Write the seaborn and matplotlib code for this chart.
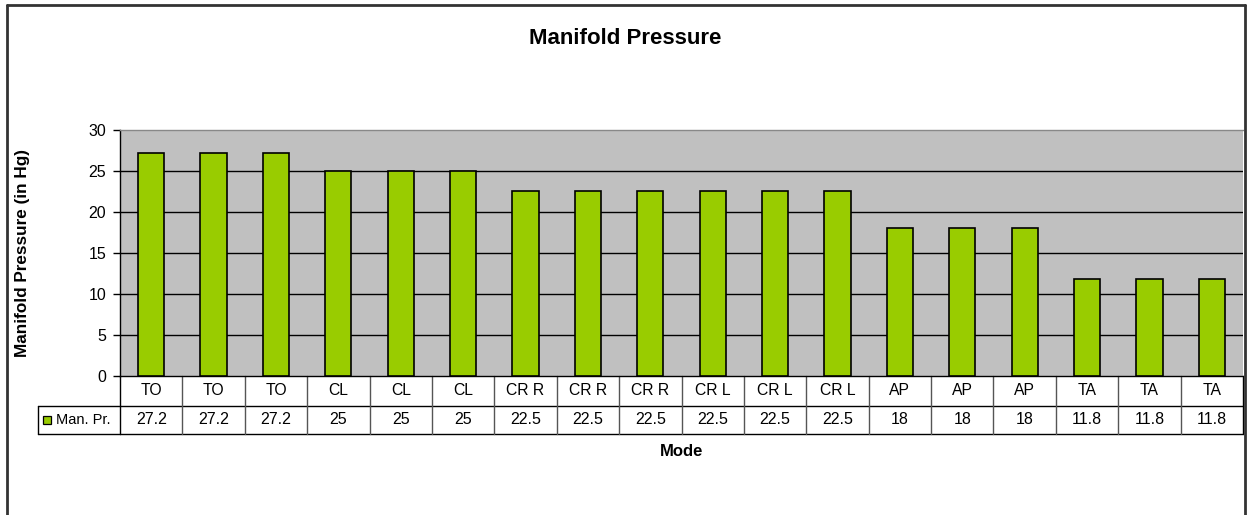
import matplotlib
matplotlib.use("Agg")
import matplotlib.pyplot as plt
import seaborn as sns
import pandas as pd
import numpy as np
from matplotlib.lines import Line2D
from matplotlib.patches import Rectangle
import matplotlib.transforms as mtransforms

modes = ["TO", "TO", "TO", "CL", "CL", "CL", "CR R", "CR R", "CR R",
         "CR L", "CR L", "CR L", "AP", "AP", "AP", "TA", "TA", "TA"]
values = [27.2, 27.2, 27.2, 25, 25, 25, 22.5, 22.5, 22.5,
          22.5, 22.5, 22.5, 18, 18, 18, 11.8, 11.8, 11.8]
value_labels = ["27.2", "27.2", "27.2", "25", "25", "25", "22.5", "22.5", "22.5",
                "22.5", "22.5", "22.5", "18", "18", "18", "11.8", "11.8", "11.8"]
series_name = "Man. Pr."
yticks = [0, 5, 10, 15, 20, 25, 30]

sns.set_theme(style="white")
plt.rcParams['font.family'] = ['Liberation Sans', 'DejaVu Sans']
plt.rcParams['text.color'] = 'black'
plt.rcParams['axes.labelcolor'] = 'black'
plt.rcParams['ytick.color'] = 'black'

W, H = 1250, 515
fig = plt.figure(figsize=(W / 100, H / 100), dpi=100)
fig.patch.set_facecolor("white")

# figure border
for (x0, y0, x1, y1) in [(7, 5, 1245, 5), (7, 5, 7, 515), (1245, 5, 1245, 515)]:
    fig.add_artist(Line2D([x0 / W, x1 / W], [1 - y0 / H, 1 - y1 / H],
                          transform=fig.transFigure, color="#333333", lw=2))

left, right, top, bottom = 120, 1243, 130, 375.5
ax = fig.add_axes([left / W, 1 - bottom / H, (right - left) / W, (bottom - top) / H])

df = pd.DataFrame({"idx": np.arange(len(values)), "val": values})
sns.barplot(data=df, x="idx", y="val", color="#99CC00", saturation=1,
            edgecolor="black", linewidth=1.2, width=0.42, ax=ax, zorder=3)

ax.set_facecolor("#C0C0C0")
ax.set_ylim(0, 30)
ax.set_xlim(-0.5, len(values) - 0.5)
ax.set_yticks(yticks)
ax.set_yticklabels([str(t) for t in yticks], fontsize=11.5, color="black")
ax.set_xticks([])
ax.set_xlabel("")
ax.set_ylabel("Manifold Pressure (in Hg)", fontsize=12.3, fontweight="bold", color="black")
ax.yaxis.set_label_coords((30 - left) / (right - left), 0.5)
ax.tick_params(axis="y", which="both", left=True, length=5, width=1, color="black", pad=5)
for t in yticks[1:-1]:
    ax.axhline(t, color="black", lw=1, zorder=1)
ax.spines["top"].set_color("#888888")
ax.spines["top"].set_linewidth(1)
ax.spines["right"].set_visible(False)
ax.spines["left"].set_color("black")
ax.spines["left"].set_linewidth(1)
ax.spines["bottom"].set_color("black")
ax.spines["bottom"].set_linewidth(1)

# data table below the axes
trans = mtransforms.blended_transform_factory(ax.transData, ax.transAxes)
axh = bottom - top
row_h = 30 / axh
row2_h = 28 / axh
n = len(values)
y_r1_bot = -row_h
y_r2_bot = -row_h - row2_h

ax.add_line(Line2D([-0.5, n - 0.5], [y_r1_bot, y_r1_bot], transform=trans,
                   color="black", lw=1, clip_on=False))
ax.add_line(Line2D([-0.5, n - 0.5], [y_r2_bot, y_r2_bot], transform=trans,
                   color="black", lw=1, clip_on=False))
for i in range(n + 1):
    xv = i - 0.5
    c = "#555555" if 0 < i < n else "black"
    ax.add_line(Line2D([xv, xv], [0, y_r2_bot], transform=trans,
                       color=c, lw=1, clip_on=False))

# legend cell
cat_w = (right - left) / n
leg_left_px = 38
leg_left_data = -0.5 - (left - leg_left_px) / cat_w
ax.add_line(Line2D([leg_left_data, -0.5], [y_r1_bot, y_r1_bot], transform=trans,
                   color="black", lw=1, clip_on=False))
ax.add_line(Line2D([leg_left_data, -0.5], [y_r2_bot, y_r2_bot], transform=trans,
                   color="black", lw=1, clip_on=False))
ax.add_line(Line2D([leg_left_data, leg_left_data], [y_r1_bot, y_r2_bot], transform=trans,
                   color="black", lw=1, clip_on=False))
ymid2 = (y_r1_bot + y_r2_bot) / 2
ax.add_patch(Rectangle((leg_left_data + 5 / cat_w, ymid2 - 4 / axh), 8 / cat_w, 8 / axh,
                       transform=trans, facecolor="#99CC00", edgecolor="black",
                       lw=0.9, clip_on=False))
ax.text(leg_left_data + 18 / cat_w, ymid2, series_name, transform=trans,
        ha="left", va="center", fontsize=10.5, color="black")

for i, (m, v) in enumerate(zip(modes, value_labels)):
    ax.text(i, -row_h / 2, m, transform=trans, ha="center", va="center",
            fontsize=11.3, color="black")
    ax.text(i, ymid2, v, transform=trans, ha="center", va="center",
            fontsize=11.5, color="black")

fig.text((left + right) / 2 / W, 1 - 451 / H, "Mode", ha="center", va="center",
         fontsize=12, fontweight="bold", color="black")
fig.text(625 / W, 1 - 38 / H, "Manifold Pressure", ha="center", va="center",
         fontsize=16, fontweight="bold", color="black")

fig.savefig("out.png", dpi=100, facecolor="white")
